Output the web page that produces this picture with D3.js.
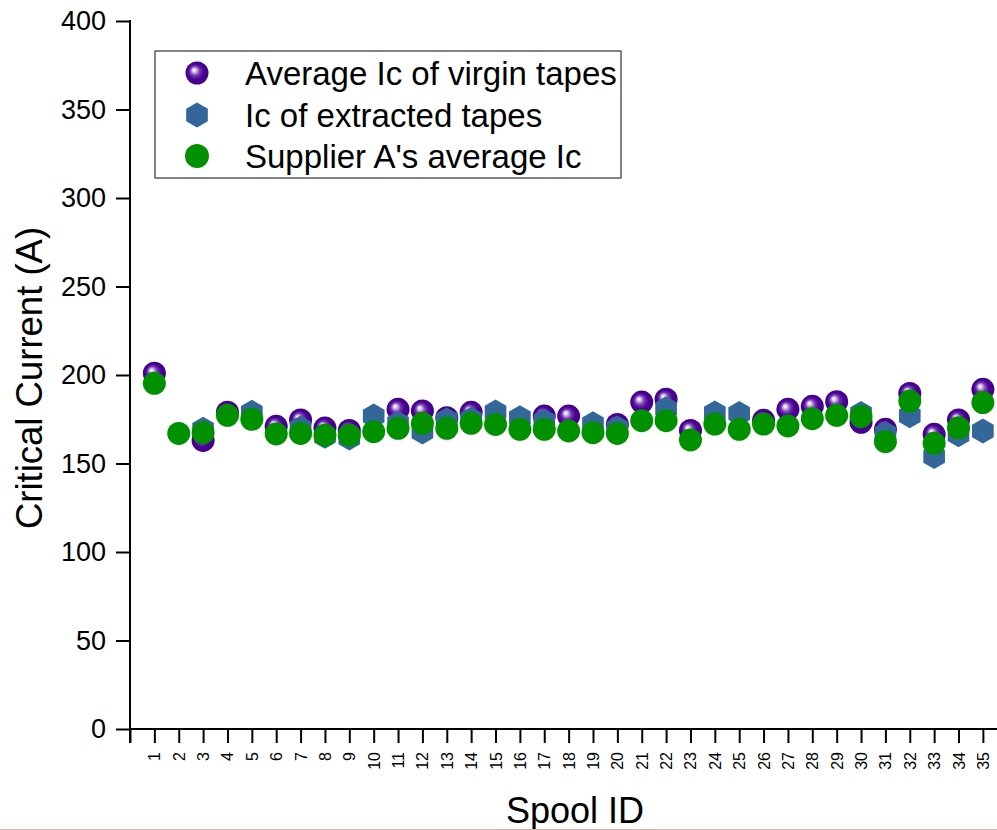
<!DOCTYPE html>
<html lang="en">
<head>
  <meta charset="UTF-8" />
  <title>Critical current per spool</title>
  <style>
    body { margin: 0; background: #fff; }
    svg { display: block; font-family: "Liberation Sans", Arial, sans-serif; }
    .axis path, .axis line { stroke: #000; stroke-width: 2px; }
  </style>
</head>
<body>
<svg id="chart"></svg>
<script src="https://d3js.org/d3.v7.min.js"></script>
<script>
  const spools = d3.range(1, 36);
  const virgin = [201, null, 163, 179, null, 171, 174.6, 170, 168.7, null,
    180.6, 179.7, 175.9, 178.9, null, null, 176.8, 176.8, null, 172.1,
    184.7, 186.3, 168.7, null, null, 174.4, 180.6, 182.3, 184.9, 173.3,
    169.3, 189.6, 166.5, 174.6, 191.9];
  const extracted = [null, null, 169.3, null, 179, null, 170, 165.4, 164.4, 176.8,
    172.7, 167.8, 174.6, 175, 179.1, 175.9, 174, null, 172.5, 170,
    null, 181, null, 178.5, 178.2, null, null, null, null, 178.2,
    167, 177, 154, 166.3, 168.4];
  const supplier = [195.3, 167, 167.4, 177.2, 175, 166.7, 167, 166, 166, 168,
    169.9, 172.7, 169.9, 172.7, 172.1, 169.3, 169.3, 168.4, 167.4, 167,
    174.2, 174.2, 163.3, 172.3, 169.3, 172.3, 171.2, 175.3, 177.2, 176.5,
    162.3, 185.3, 161.4, 170.2, 184.4];
  const yTicks = [0, 50, 100, 150, 200, 250, 300, 350, 400];
  const legendNames = ["Average Ic of virgin tapes", "Ic of extracted tapes", "Supplier A's average Ic"];

  const width = 997, height = 830;
  const svg = d3.select("#chart").attr("width", width).attr("height", height);

  const x = d3.scaleLinear().domain([0, 35.6]).range([130, 997.5]);
  const y = d3.scaleLinear().domain([0, 400]).range([729, 21]);

  // purple sphere gradient
  const grad = svg.append("defs").append("radialGradient")
    .attr("id", "sphere")
    .attr("cx", 0.5).attr("cy", 0.5).attr("r", 0.55)
    .attr("fx", 0.36).attr("fy", 0.36);
  grad.append("stop").attr("offset", 0).attr("stop-color", "#ffffff");
  grad.append("stop").attr("offset", 0.12).attr("stop-color", "#e4d6f2");
  grad.append("stop").attr("offset", 0.38).attr("stop-color", "#7338b0");
  grad.append("stop").attr("offset", 0.62).attr("stop-color", "#4b0096");
  grad.append("stop").attr("offset", 1).attr("stop-color", "#3f0082");

  function hexPath(cx, cy, r) {
    const pts = d3.range(6).map(k => {
      const a = -Math.PI / 2 + k * Math.PI / 3;
      return [cx + r * Math.cos(a), cy + r * Math.sin(a)];
    });
    return d3.line()(pts) + "Z";
  }

  // axes
  svg.append("g").attr("class", "axis")
    .attr("transform", "translate(130,0)")
    .call(d3.axisLeft(y).tickValues(yTicks).tickSize(14).tickSizeOuter(0).tickPadding(10))
    .call(g => g.select(".domain").remove())
    .call(g => g.selectAll("text").attr("font-size", 27).attr("fill", "#000")
      .attr("font-family", "Liberation Sans, Arial, sans-serif"));
  svg.append("line").attr("x1", 130).attr("x2", 130).attr("y1", 20).attr("y2", 743)
    .attr("stroke", "#000").attr("stroke-width", 2);

  svg.append("g").attr("class", "axis")
    .attr("transform", "translate(0,729)")
    .call(d3.axisBottom(x).tickValues(d3.range(0, 36)).tickSize(14).tickSizeOuter(0).tickFormat(""))
    .call(g => g.select(".domain").attr("d", "M130,0H997"));

  svg.append("g").selectAll("text")
    .data(spools)
    .join("text")
    .attr("transform", d => `translate(${x(d) + 6},752) rotate(-90)`)
    .attr("text-anchor", "end")
    .attr("font-size", 16)
    .text(d => d);

  // axis titles
  svg.append("text")
    .attr("transform", "translate(42,378) rotate(-90)")
    .attr("text-anchor", "middle")
    .attr("font-size", 36.5)
    .text("Critical Current (A)");
  svg.append("text")
    .attr("x", 575).attr("y", 823)
    .attr("text-anchor", "middle")
    .attr("font-size", 36)
    .text("Spool ID");

  // data marks: virgin, then extracted, then supplier on top
  const plot = svg.append("g");
  plot.selectAll(".virgin")
    .data(spools.filter((d, i) => virgin[i] != null))
    .join("circle")
    .attr("class", "virgin")
    .attr("cx", d => x(d)).attr("cy", d => y(virgin[d - 1]))
    .attr("r", 11.5)
    .attr("fill", "url(#sphere)");
  plot.selectAll(".extracted")
    .data(spools.filter((d, i) => extracted[i] != null))
    .join("path")
    .attr("class", "extracted")
    .attr("d", d => hexPath(x(d), y(extracted[d - 1]), 12.5))
    .attr("fill", "#336699");
  plot.selectAll(".supplier")
    .data(spools.filter((d, i) => supplier[i] != null))
    .join("circle")
    .attr("class", "supplier")
    .attr("cx", d => x(d)).attr("cy", d => y(supplier[d - 1]))
    .attr("r", 11.5)
    .attr("fill", "#009100");

  // legend
  const legend = svg.append("g");
  legend.append("rect")
    .attr("x", 155).attr("y", 51).attr("width", 466).attr("height", 127)
    .attr("fill", "#fff").attr("stroke", "#333").attr("stroke-width", 1.2);
  const rowY = [73, 115, 156];
  legend.append("circle").attr("cx", 197).attr("cy", rowY[0]).attr("r", 11.5).attr("fill", "url(#sphere)");
  legend.append("path").attr("d", hexPath(197, rowY[1], 12.5)).attr("fill", "#336699");
  legend.append("circle").attr("cx", 197).attr("cy", rowY[2]).attr("r", 12).attr("fill", "#009100");
  legend.selectAll(".lt")
    .data(legendNames)
    .join("text")
    .attr("class", "lt")
    .attr("x", 245).attr("y", (d, i) => rowY[i] + 12)
    .attr("font-size", 33)
    .text(d => d);

  // faint bottom border line
  svg.append("line").attr("x1", 0).attr("x2", 997).attr("y1", 829.5).attr("y2", 829.5)
    .attr("stroke", "#dcb5ad").attr("stroke-width", 1);
</script>
</body>
</html>
